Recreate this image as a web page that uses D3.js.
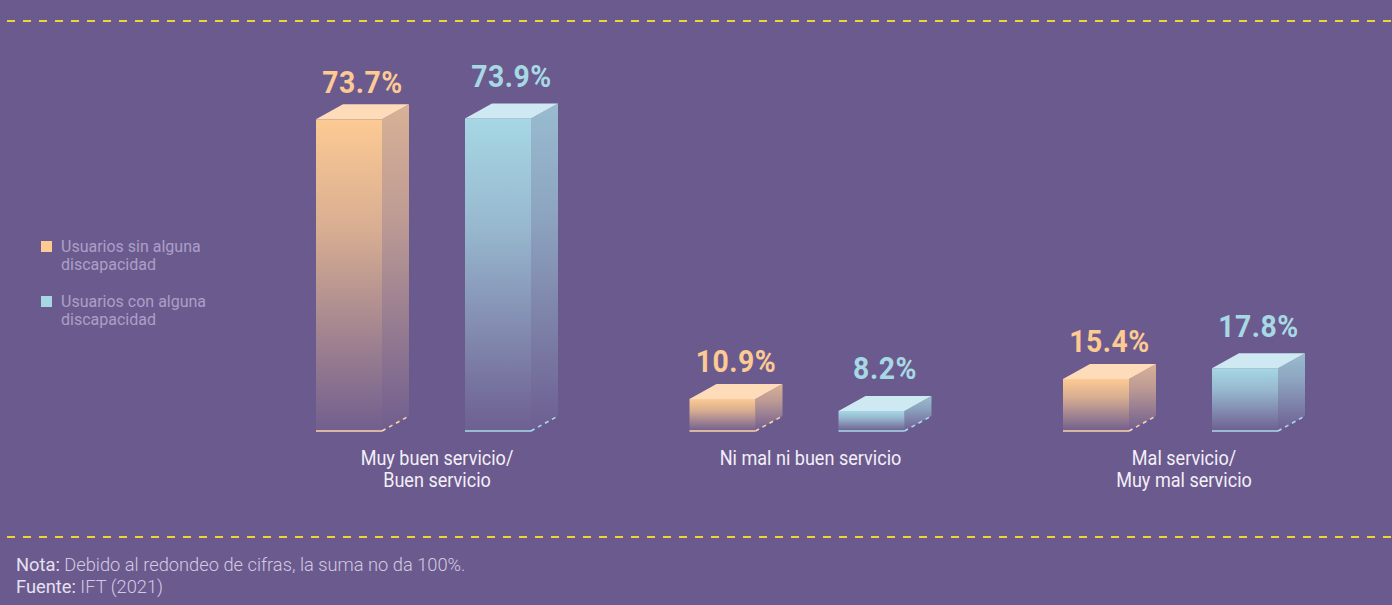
<!DOCTYPE html>
<html>
<head>
<meta charset="utf-8">
<script src="https://cdn.jsdelivr.net/npm/d3@7"></script>
<style>
  html, body { margin: 0; padding: 0; background: #6b5a8e; }
  svg { display: block; }
  text { font-family: Roboto, "Noto Sans", sans-serif; }
</style>
</head>
<body>
<svg id="chart" width="1392" height="605"></svg>
<script>
// ---------- data ----------
const categories = ["Muy buen servicio/ Buen servicio", "Ni mal ni buen servicio", "Mal servicio/ Muy mal servicio"];
const categoryLines = [["Muy buen servicio/", "Buen servicio"], ["Ni mal ni buen servicio"], ["Mal servicio/", "Muy mal servicio"]];
const seriesNames = ["Usuarios sin alguna discapacidad", "Usuarios con alguna discapacidad"];
const legendLines = [["Usuarios sin alguna", "discapacidad"], ["Usuarios con alguna", "discapacidad"]];
const sinValues = [73.7, 10.9, 15.4];
const conValues = [73.9, 8.2, 17.8];
const valueLabels = [["73.7%", "10.9%", "15.4%"], ["73.9%", "8.2%", "17.8%"]];
const noteLabel = "Nota:";
const noteText = " Debido al redondeo de cifras, la suma no da 100%.";
const sourceLabel = "Fuente:";
const sourceText = " IFT (2021)";

// ---------- styles ----------
const W = 1392, H = 605;
const bg = "#6b5a8e";
const palette = [
  { front: "#fdca93", side: "#d9b196", top: "#fedcb9", label: "#fcca92", line: "#fcd3aa" },
  { front: "#a6d7e4", side: "#98bcd0", top: "#cfe9f2", label: "#a7d9e5", line: "#a9dbe8" }
];
const depthX = 27, depthY = 15, barW = 66;
const baseline = 431;

const svg = d3.select("#chart");
svg.append("rect").attr("width", W).attr("height", H).attr("fill", bg);

// dashed separator lines
[21, 537].forEach(yy => {
  svg.append("line").attr("x1", 7).attr("x2", W).attr("y1", yy).attr("y2", yy)
    .attr("stroke", "#f2d333").attr("stroke-width", 2).attr("stroke-dasharray", "8,8");
});

// scales
const x = d3.scaleBand().domain(categories).range([250.25, 1370.75]).padding(0);
const xSub = d3.scalePoint().domain(seriesNames).range([-121, 28]);
const y = d3.scaleLinear().domain([0, 80]).range([447.5, 91.3]);

// gradients
const defs = svg.append("defs");
palette.forEach((p, i) => {
  ["front", "side", "top"].forEach(face => {
    const g = defs.append("linearGradient").attr("id", `g-${i}-${face}`)
      .attr("x1", 0).attr("x2", 0).attr("y1", 0).attr("y2", 1);
    if (face === "top") {
      g.append("stop").attr("offset", 0).attr("stop-color", p.top);
      g.append("stop").attr("offset", 1).attr("stop-color", p.top);
    } else {
      g.append("stop").attr("offset", 0).attr("stop-color", p[face]).attr("stop-opacity", 1);
      g.append("stop").attr("offset", 0.35).attr("stop-color", p[face]).attr("stop-opacity", 0.75);
      g.append("stop").attr("offset", 1).attr("stop-color", p[face]).attr("stop-opacity", 0.04);
    }
  });
});

const seriesValues = [sinValues, conValues];
const labelGap = [11.5, 16.5];

seriesValues.forEach((vals, si) => {
  const p = palette[si];
  const grp = svg.append("g");
  vals.forEach((v, ci) => {
    const cx = x(categories[ci]) + x.bandwidth() / 2;
    const x0 = cx + xSub(seriesNames[si]);
    const yt = y(v);
    // front face
    grp.append("rect").attr("x", x0).attr("y", yt).attr("width", barW).attr("height", baseline - yt)
      .attr("fill", `url(#g-${si}-front)`);
    // side face
    grp.append("path")
      .attr("d", `M${x0 + barW},${yt} L${x0 + barW + depthX},${yt - depthY} L${x0 + barW + depthX},${baseline - depthY} L${x0 + barW},${baseline} Z`)
      .attr("fill", `url(#g-${si}-side)`);
    // top face
    grp.append("path")
      .attr("d", `M${x0},${yt} L${x0 + depthX},${yt - depthY} L${x0 + barW + depthX},${yt - depthY} L${x0 + barW},${yt} Z`)
      .attr("fill", `url(#g-${si}-top)`);
    // base line
    grp.append("line").attr("x1", x0).attr("x2", x0 + barW).attr("y1", baseline).attr("y2", baseline)
      .attr("stroke", p.line).attr("stroke-width", 1.6);
    grp.append("line").attr("x1", x0 + barW).attr("x2", x0 + barW + depthX)
      .attr("y1", baseline).attr("y2", baseline - depthY)
      .attr("stroke", p.line).attr("stroke-width", 1.6).attr("stroke-dasharray", "4,4");
    // value label
    grp.append("g")
      .attr("transform", `translate(${x0 + (barW + depthX) / 2},${yt - depthY - labelGap[si]}) scale(0.9,1)`)
      .append("text").attr("text-anchor", "middle")
      .attr("font-size", 31.5).attr("font-weight", 700).attr("fill", p.label)
      .attr("letter-spacing", 0.6)
      .text(valueLabels[si][ci]);
  });
});

// category labels
categories.forEach((c, ci) => {
  const cx = x(c) + x.bandwidth() / 2;
  const g = svg.append("g").attr("transform", `translate(${cx},464.5) scale(0.86,1)`);
  categoryLines[ci].forEach((ln, li) => {
    g.append("text").attr("x", 0).attr("y", li * 22.5).attr("text-anchor", "middle")
      .attr("font-size", 21).attr("fill", "#f3eff7").text(ln);
  });
});

// legend
const legendY = [241, 296];
seriesNames.forEach((s, si) => {
  svg.append("rect").attr("x", 41).attr("y", legendY[si]).attr("width", 11).attr("height", 11)
    .attr("fill", palette[si].front);
  legendLines[si].forEach((ln, li) => {
    svg.append("text").attr("x", 61).attr("y", legendY[si] + 11 + li * 18)
      .attr("font-size", 16).attr("fill", "#ab9fc8").text(ln);
  });
});

// footer
const foot = svg.append("g").attr("transform", "translate(16,571)");
const t1 = foot.append("text").attr("x", 0).attr("y", 0).attr("font-size", 18.3);
t1.append("tspan").attr("fill", "#e6e1ee").attr("font-weight", 400).text(noteLabel);
t1.append("tspan").attr("fill", "#d2cae0").attr("font-weight", 300).text(noteText);
const t2 = foot.append("text").attr("x", 0).attr("y", 22).attr("font-size", 18.3);
t2.append("tspan").attr("fill", "#e6e1ee").attr("font-weight", 400).text(sourceLabel);
t2.append("tspan").attr("fill", "#d2cae0").attr("font-weight", 300).text(sourceText);
</script>
</body>
</html>
